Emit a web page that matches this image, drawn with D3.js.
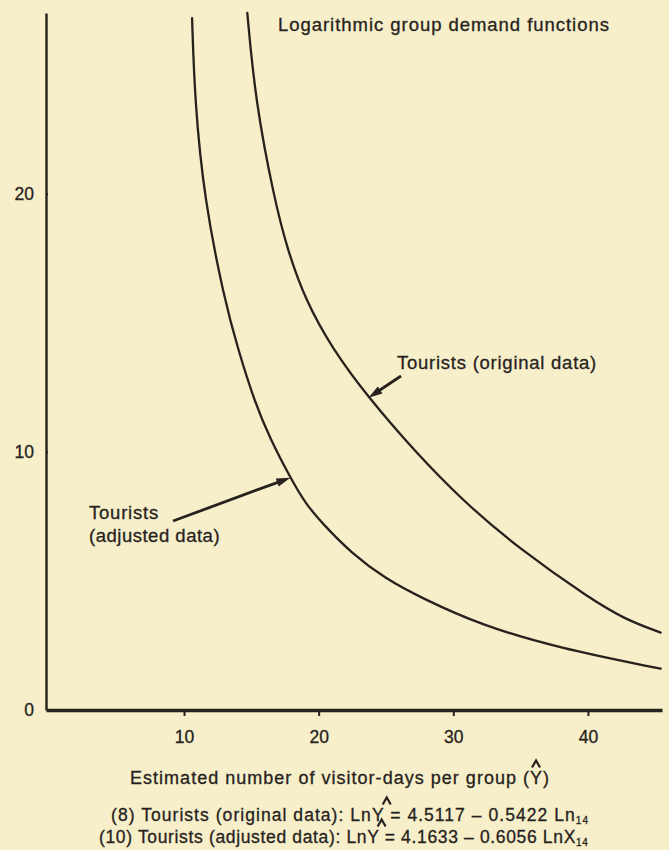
<!DOCTYPE html>
<html>
<head>
<meta charset="utf-8">
<script src="https://cdn.jsdelivr.net/npm/d3@7"></script>
<style>
  html, body { margin: 0; padding: 0; background: #f6efca; }
  svg { display: block; }
</style>
</head>
<body>
<svg id="chart" width="669" height="850"></svg>
<script>
// Estimated visitor-days per group (horizontal) against X14 (vertical)
const xTicks = [10, 20, 30, 40];
const yTicks = [0, 10, 20];

// Tourists, original data
const originalVisitorDays = [14.7, 15.3, 16.7, 17.7, 19.0, 21.0, 23.7, 27.0, 30.7, 35.0, 40.2, 42.8, 45.4];
const originalX14         = [27.0, 23.6, 19.8, 17.8, 15.9, 14.0, 12.1, 10.1,  8.1,  6.2,  4.3,  3.5,  3.0];

// Tourists, adjusted data
const adjustedVisitorDays = [10.6, 10.8, 11.5, 13.0, 14.0, 15.2, 16.4, 17.9, 19.0, 20.5, 22.4, 24.9, 27.8, 32.0, 37.8, 45.4];
const adjustedX14         = [26.8, 23.6, 19.8, 15.9, 14.0, 12.0, 10.5,  9.0,  8.0,  7.1,  6.1,  5.1,  4.3,  3.3,  2.4,  1.6];

const titleText = "Logarithmic group demand functions";
const originalLabel = "Tourists (original data)";
const adjustedLabel = ["Tourists", "(adjusted data)"];
const axisTitle = "Estimated number of visitor-days per group (Y)";
const equation8 = "(8)  Tourists (original data): LnY = 4.5117  \u2013 0.5422 Ln";
const equation10 = "(10)  Tourists (adjusted data): LnY = 4.1633 \u2013 0.6056 LnX";
const subscript = "14";

// where each annotation arrow points on its curve
const originalArrowAt = [23.7, 12.1];
const adjustedArrowAt = [17.9, 9.0];

const W = 669, H = 850;
const FONT = "'Liberation Sans', Arial, Helvetica, sans-serif";
const ink = "#27221d";
const paper = "#f6efca";

const x = d3.scaleLinear().domain([-0.25, 45.5]).range([46, 662]);
const y = d3.scaleLinear().domain([0, 27]).range([710, 13]);

const svg = d3.select("#chart");
svg.append("rect").attr("width", W).attr("height", H).attr("fill", paper);

// spread a label's letters so it spans the given width
function fit(sel, width) {
  const node = sel.node();
  const natural = node.getComputedTextLength();
  const n = node.textContent.length;
  sel.attr("letter-spacing", ((width - natural) / n).toFixed(2));
  return sel;
}

function hatOver(sel, index, baseline) {
  const box = sel.node().getExtentOfChar(index);
  const ls = parseFloat(sel.attr("letter-spacing") || 0);
  const cx = box.x + (box.width - ls) / 2;
  const cy = baseline - 20;
  svg.append("path")
    .attr("d", `M${cx - 4},${cy + 3.5}L${cx},${cy - 3.5}L${cx + 4},${cy + 3.5}`)
    .attr("fill", "none").attr("stroke", ink).attr("stroke-width", 2.2)
    .attr("stroke-linejoin", "miter");
}

// Vertical axis
const gy = svg.append("g")
  .attr("transform", `translate(${x(-0.25)},0)`)
  .call(d3.axisLeft(y).tickValues(yTicks).tickSize(8).tickSizeOuter(0).tickPadding(4).tickFormat(d3.format("d")))
  .attr("font-family", FONT).attr("font-size", 17.5);
gy.select(".domain").attr("stroke", ink).attr("stroke-width", 2.4);
gy.selectAll(".tick line").attr("stroke", ink).attr("stroke-width", 2.4).attr("x2", 2)
  .attr("display", d => d === 0 ? "none" : null);
gy.selectAll(".tick text").attr("fill", ink).attr("stroke", ink).attr("stroke-width", 0.3);

// Horizontal axis
const gx = svg.append("g")
  .attr("transform", `translate(0,${y(0)})`)
  .call(d3.axisBottom(x).tickValues(xTicks).tickSize(6).tickSizeOuter(0).tickPadding(15).tickFormat(d3.format("d")))
  .attr("font-family", FONT).attr("font-size", 17.5);
gx.select(".domain").attr("stroke", ink).attr("stroke-width", 3.6);
gx.selectAll(".tick line").attr("stroke", ink).attr("stroke-width", 2);
gx.selectAll(".tick text").attr("fill", ink).attr("stroke", ink).attr("stroke-width", 0.3);

// Demand curves
const line = d3.line().x(d => x(d[0])).y(d => y(d[1])).curve(d3.curveBasis);
const originalPts = originalVisitorDays.map((v, i) => [v, originalX14[i]]);
const adjustedPts = adjustedVisitorDays.map((v, i) => [v, adjustedX14[i]]);
[originalPts, adjustedPts].forEach(pts => {
  svg.append("path").attr("d", line(pts))
    .attr("fill", "none").attr("stroke", ink).attr("stroke-width", 2.3)
    .attr("stroke-linecap", "round");
});

// Annotation arrows
function arrow(x0, y0, x1, y1) {
  const dx = x1 - x0, dy = y1 - y0, len = Math.hypot(dx, dy);
  const ux = dx / len, uy = dy / len;
  const headL = 14, headW = 4.2;
  const bx = x1 - ux * headL, by = y1 - uy * headL;
  svg.append("line").attr("x1", x0).attr("y1", y0).attr("x2", bx + ux * 2).attr("y2", by + uy * 2)
    .attr("stroke", ink).attr("stroke-width", 2.8);
  svg.append("path")
    .attr("d", `M${x1},${y1}L${bx - uy * headW},${by + ux * headW}L${bx + uy * headW},${by - ux * headW}Z`)
    .attr("fill", ink);
}
arrow(401, 376, x(originalArrowAt[0]), y(originalArrowAt[1]));
arrow(173, 521, x(adjustedArrowAt[0]), y(adjustedArrowAt[1]));

function label(txt, lx, baseline, width, size) {
  const t = svg.append("text").attr("x", lx).attr("y", baseline)
    .attr("font-family", FONT).attr("font-size", size).attr("fill", ink)
    .attr("stroke", ink).attr("stroke-width", 0.3).text(txt);
  return fit(t, width);
}

label(titleText, 278, 31, 332, 18.5);
label(originalLabel, 397, 369, 200, 18.5);
label(adjustedLabel[0], 89, 519, 70, 18.5);
label(adjustedLabel[1], 89, 542, 131, 18.5);

const at = label(axisTitle, 130, 784, 420, 18);
hatOver(at, axisTitle.indexOf("(Y)") + 1, 784);

function equation(txt, lx, baseline, width) {
  const t = svg.append("text").attr("x", lx).attr("y", baseline)
    .attr("font-family", FONT).attr("font-size", 17.5).attr("fill", ink)
    .attr("stroke", ink).attr("stroke-width", 0.3);
  t.append("tspan").text(txt);
  t.append("tspan").attr("font-size", 10).attr("dy", 3).text(subscript);
  fit(t, width);
  hatOver(t, txt.indexOf("LnY") + 2, baseline);
}
equation(equation8, 111, 821, 480);
equation(equation10, 99, 843, 490);
</script>
</body>
</html>
